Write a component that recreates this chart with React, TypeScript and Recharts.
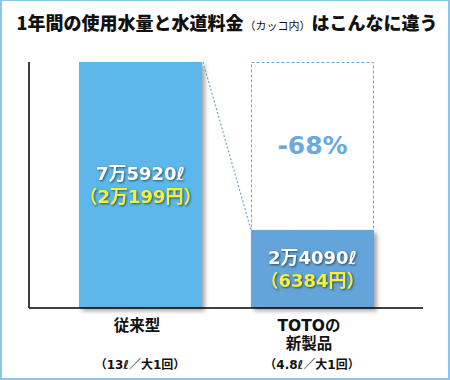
import { BarChart, Bar, XAxis, YAxis, LabelList, Cell } from 'recharts'

/* ─── Data ─── */

const categories = ['従来型', 'TOTOの\n新製品']
const usageNotes = ['（13ℓ／大1回）', '（4.8ℓ／大1回）']
const waterLiters = [75920, 24090]
const volumeLabels = ['7万5920ℓ', '2万4090ℓ']
const costLabels = ['（2万199円）', '（6384円）']
const savingLabels = ['', '-68%']

/* ─── Layout constants ─── */

const W = 450
const H = 380
const MARGIN = { top: 62, right: 27, bottom: 12, left: 9 }
const Y_AXIS_W = 20
const PAD_X = 25
const BAR_SIZE = 123
const PLOT_W = W - MARGIN.left - MARGIN.right - Y_AXIS_W
const BAND = (PLOT_W - PAD_X * 2) / categories.length
const BAR_GAP = BAND - BAR_SIZE

const BAR_COLORS = ['#5cb8eb', '#63a4da']
const DASH_COLOR = '#6aa8e0'
const YELLOW = '#f6ef3c'
const FONT = '"Noto Sans CJK JP", "Noto Sans", sans-serif'
const WIDE_FONT = '"DejaVu Sans", "Noto Sans CJK JP", sans-serif'

const maxLiters = Math.max(...waterLiters)

const chartData = categories.map((name, i) => ({
  name,
  liters: waterLiters[i],
  saved: i === 0 ? 0 : maxLiters - waterLiters[i],
}))

/* ─── Shapes ─── */

function ShadowBar(props: any) {
  const { x, y, width, height, fill } = props
  return (
    <rect
      x={x}
      y={y}
      width={width}
      height={height}
      fill={fill}
      style={{ filter: 'drop-shadow(3px 3px 2px rgba(0,0,0,0.35))' }}
    />
  )
}

function SavedBox(props: any) {
  const { x, y, width, height } = props
  if (!height) return null
  return (
    <g>
      <rect
        x={x + 0.5}
        y={y + 0.5}
        width={width - 1}
        height={height}
        fill="none"
        stroke={DASH_COLOR}
        strokeWidth={1}
        strokeDasharray="3 2"
      />
      {/* connector from top-right of previous bar */}
      <line
        x1={x - BAR_GAP + 1}
        y1={y}
        x2={x}
        y2={y + height}
        stroke={DASH_COLOR}
        strokeWidth={1.2}
        strokeDasharray="2 2"
      />
    </g>
  )
}

/* ─── Labels ─── */

const shadowText = { filter: 'drop-shadow(1px 1px 1px rgba(0,0,0,0.55))' }

function ValueLabel(props: any) {
  const { x, y, width, height, index } = props
  const cx = x + width / 2
  const cy = y + height / 2
  return (
    <g fontFamily={WIDE_FONT} fontWeight={700} fontSize={18} textAnchor="middle">
      <text x={cx} y={cy - 11.5} dominantBaseline="central" fill="#ffffff" style={shadowText}>
        {volumeLabels[index]}
      </text>
      <text x={cx} y={cy + 11.5} dominantBaseline="central" fill={YELLOW} style={shadowText}>
        {costLabels[index]}
      </text>
    </g>
  )
}

function SavingLabel(props: any) {
  const { x, y, width, height, index } = props
  if (!savingLabels[index]) return null
  return (
    <text
      x={x + width / 2}
      y={y + height / 2}
      dominantBaseline="central"
      textAnchor="middle"
      fontFamily={WIDE_FONT}
      fontWeight={700}
      fontSize={25}
      fill={DASH_COLOR}
    >
      {savingLabels[index]}
    </text>
  )
}

function CategoryTick(props: any) {
  const { x, y, payload } = props
  const i = payload.index
  const lines = categories[i].split('\n')
  return (
    <g fontFamily={WIDE_FONT} textAnchor="middle" fill="#111">
      {lines.map((l, k) => (
        <text
          key={k}
          x={x - 3}
          y={y + 17.5 + k * 18}
          dominantBaseline="central"
          fontSize={15.5}
          fontWeight={700}
          fill="#111"
        >
          {l}
        </text>
      ))}
      <text x={x} y={y + 57} dominantBaseline="central" fontSize={12} fontWeight={700} fill="#111">
        {usageNotes[i]}
      </text>
    </g>
  )
}

/* ─── Main ─── */

export default function App() {
  return (
    <div
      style={{
        position: 'absolute',
        left: 0,
        top: 0,
        width: W,
        height: H,
        boxSizing: 'border-box',
        borderStyle: 'solid',
        borderColor: '#8cc5ea',
        borderWidth: '1px 2px 2px 2px',
        background: '#fff',
        overflow: 'hidden',
      }}
    >
      <div
        style={{
          position: 'absolute',
          left: 0,
          top: 9,
          width: W,
          textAlign: 'center',
          fontFamily: FONT,
          fontWeight: 900,
          fontSize: 18,
          lineHeight: '24px',
          color: '#111',
          whiteSpace: 'nowrap',
        }}
      >
        1年間の使用水量と水道料金
        <span style={{ fontSize: 11, fontWeight: 400, margin: '0 1px' }}>（カッコ内）</span>
        はこんなに違う
      </div>
      <div style={{ position: 'absolute', left: -2, top: -1 }}>
        <BarChart width={W} height={H} data={chartData} margin={MARGIN} barSize={BAR_SIZE}>
          <XAxis
            dataKey="name"
            padding={{ left: PAD_X, right: PAD_X }}
            axisLine={{ stroke: '#000', strokeWidth: 1.5 }}
            tickLine={false}
            tickSize={0}
            tickMargin={0}
            interval={0}
            height={60}
            tick={<CategoryTick />}
          />
          <YAxis
            width={Y_AXIS_W}
            domain={[0, maxLiters]}
            axisLine={{ stroke: '#000', strokeWidth: 1.5 }}
            tick={false}
            tickLine={false}
          />
          <Bar dataKey="liters" stackId="a" shape={<ShadowBar />} isAnimationActive={false}>
            {chartData.map((d, i) => (
              <Cell key={d.name} fill={BAR_COLORS[i]} />
            ))}
            <LabelList dataKey="liters" content={<ValueLabel />} />
          </Bar>
          <Bar dataKey="saved" stackId="a" shape={<SavedBox />} isAnimationActive={false}>
            <LabelList dataKey="saved" content={<SavingLabel />} />
          </Bar>
        </BarChart>
      </div>
    </div>
  )
}
